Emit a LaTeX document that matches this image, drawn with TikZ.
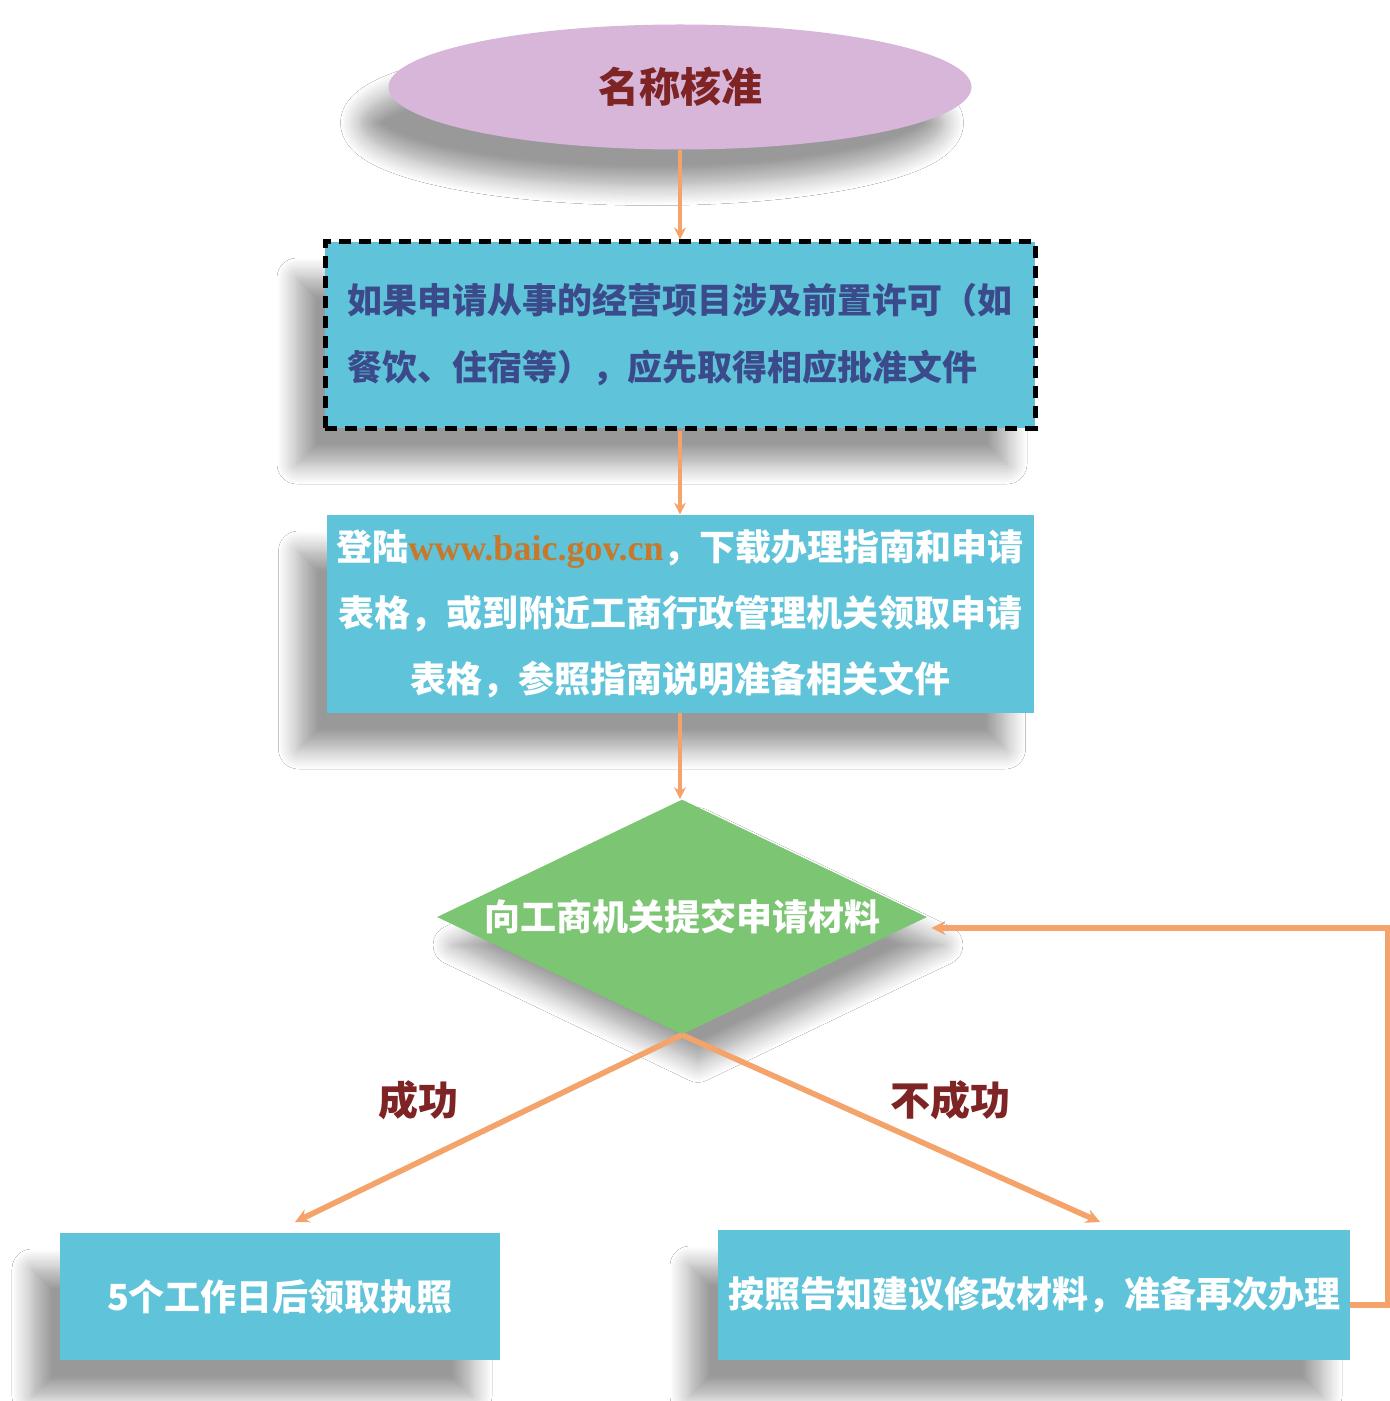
\documentclass[tikz,border=0pt]{standalone}
\usepackage{fontspec}
\setmainfont{Liberation Serif}
\newfontfamily\cjk{Noto Sans CJK SC}
\usetikzlibrary{shapes.geometric,shadows.blur,arrows.meta,calc}
\definecolor{boxcyan}{HTML}{5FC3D9}
\definecolor{lilac}{HTML}{D7B6DA}
\definecolor{leaf}{HTML}{7CC572}
\definecolor{flowor}{HTML}{F4A36A}
\definecolor{navytext}{HTML}{3B4A8A}
\definecolor{redtext}{HTML}{7E2424}
\definecolor{urlor}{HTML}{C8782A}
\tikzset{
  shadowL/.style={blur shadow={shadow xshift=-14pt,shadow yshift=-18pt,shadow blur radius=10pt,shadow blur steps=12,shadow opacity=40}},
  shadowR/.style={blur shadow={shadow xshift=8pt,shadow yshift=-14pt,shadow blur radius=10pt,shadow blur steps=12,shadow opacity=40}},
  cyanbox/.style={rectangle,fill=boxcyan,draw=none,inner sep=0pt,shadowL},
  flow/.style={draw=flowor,line width=2.8pt,-{Stealth[length=7pt,width=7pt]}},
  thinflow/.style={draw=flowor,line width=1.8pt,-{Stealth[length=6pt,width=6pt]}},
  whitetxt/.style={text=white,font=\cjk\bfseries\fontsize{18pt}{33pt}\selectfont},
  lbl/.style={text=redtext,font=\cjk\bfseries\fontsize{20pt}{24pt}\selectfont}
}
\begin{document}
\begin{tikzpicture}[x=0.5pt,y=-0.5pt]
\useasboundingbox (0,0) rectangle (1390,1401);
\fill[white] (0,0) rectangle (1390,1401);

\node[ellipse,fill=lilac,inner sep=0pt,minimum width=291.5pt,minimum height=62.5pt,shadowL,
  text=redtext,font=\cjk\bfseries\fontsize{20.5pt}{24pt}\selectfont] (name) at (680,87) {名称核准};

\node[cyanbox,draw=black,line width=2.5pt,dash pattern=on 6pt off 4pt,minimum width=355pt,minimum height=93pt,
  text=navytext,align=left,font=\cjk\bfseries\fontsize{17.5pt}{33.5pt}\selectfont] (permit) at (680,335)
  {如果申请从事的经营项目涉及前置许可（如\\餐饮、住宿等），应先取得相应批准文件};

\node[cyanbox,minimum width=353.5pt,minimum height=99pt,whitetxt,align=center] (guide) at (680,614)
  {登陆{\color{urlor}\rmfamily www.baic.gov.cn}，下载办理指南和申请\\表格，或到附近工商行政管理机关领取申请\\表格，参照指南说明准备相关文件};

\node[diamond,fill=leaf,inner sep=0pt,aspect=2.085,minimum width=245pt,minimum height=117.5pt,shadowR,whitetxt] (submit) at (682,917)
  {向工商机关提交申请材料};

\node[cyanbox,minimum width=220pt,minimum height=63.5pt,whitetxt] (license) at (280,1296.5) {5个工作日后领取执照};
\node[cyanbox,minimum width=316pt,minimum height=65pt,whitetxt] (revise) at (1034,1295) {按照告知建议修改材料，准备再次办理};

\coordinate (tL) at (295,1222);
\coordinate (tR) at (1100,1222);
\coordinate (back) at (1388,928);

\draw[thinflow] (name.south) -- (permit.north);
\draw[thinflow] (permit.south) -- (guide.north);
\draw[thinflow] (guide.south) -- (guide.south |- submit.north);
\draw[flow] (submit.south) -- (tL);
\draw[flow] (submit.south) -- (tR);
\draw[flow,shorten >=2pt] ([yshift=-5pt]revise.east) -| (back) -- (submit.east |- back);

\node[lbl] (ok) at (418,1100) {成功};
\node[lbl] (fail) at (950,1100) {不成功};
\end{tikzpicture}
\end{document}
